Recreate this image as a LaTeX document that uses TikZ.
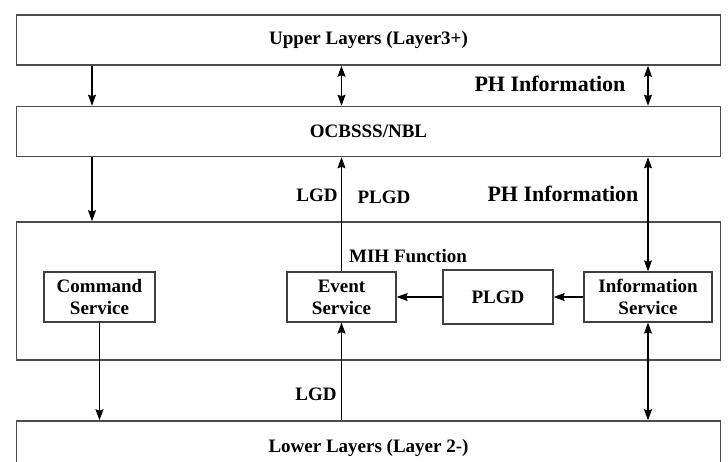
\documentclass[tikz,border=0pt]{standalone}
\usepackage{fontspec}
\setmainfont{Liberation Serif}
\usepackage{tikz}
\usetikzlibrary{positioning,arrows.meta}

\begin{document}
\begin{tikzpicture}[x=1pt,y=-1pt]
  \tikzstyle{layer} = [draw=black!70, line width=1.6pt, minimum width=704pt,
    minimum height=50pt, inner sep=0pt, font=\fontsize{19}{22}\selectfont\bfseries]
  \tikzstyle{service} = [draw=black!75, line width=1.3pt, minimum height=50pt,
    inner sep=0pt, align=center, font=\fontsize{19}{22}\selectfont\bfseries]
  \tikzstyle{lbl} = [inner sep=0pt, font=\fontsize{19}{22}\selectfont\bfseries]
  \tikzstyle{lblbig} = [inner sep=0pt, font=\fontsize{22}{24}\selectfont\bfseries]
  \tikzstyle{link} = [-{Stealth[length=11pt,width=8pt,inset=1.5pt]}, line width=1.1pt]
  \tikzstyle{linkboth} = [{Stealth[length=11pt,width=8pt,inset=1.5pt]}-{Stealth[length=11pt,width=8pt,inset=1.5pt]},
    line width=1.1pt]

  \clip (0,0) rectangle (728,462);
  \fill[white] (0,0) rectangle (728,462);

  \node[layer] (upper) at (368.5,40) {Upper Layers (Layer3+)};
  \node[layer] (ocb) at (368.5,131.5) {OCBSSS/NBL};
  \node[layer, minimum height=138pt] (mih) at (368.5,291) {};
  \node[layer, minimum height=54pt] (lower) at (368.5,448) {Lower Layers (Layer 2-)};

  \node[service, minimum width=111pt] (cmd) at (99.5,297) {Command\\Service};
  \node[service, minimum width=109pt] (event) at (341.5,297) {Event\\Service};
  \node[service, minimum width=110pt, minimum height=54pt] (plgd) at (498,297) {PLGD};
  \node[service, minimum width=128pt] (info) at (648,297) {Information\\Service};
  \coordinate (lx) at (92,0);

  \draw[link] (upper.south -| lx) -- (ocb.north -| lx);
  \draw[linkboth] (upper.south -| event) -- (ocb.north -| event);
  \draw[linkboth] (upper.south -| info) -- (ocb.north -| info);
  \draw[link] (ocb.south -| lx) -- (mih.north -| lx);
  \draw[link] (event.north) -- (ocb.south -| event);
  \draw[linkboth] (ocb.south -| info) -- (info.north);
  \draw[link] (cmd.south) -- (lower.north -| cmd);
  \draw[link] (lower.north -| event) -- (event.south);
  \draw[linkboth] (info.south) -- (lower.north -| info);
  \draw[link] (plgd) -- (event);
  \draw[link] (info) -- (plgd);

  \node[lblbig] (ph1) at (550,84) {PH Information};
  \node[lblbig] (ph2) at (563,194) {PH Information};
  \node[lbl] (lgd1) at (317,195) {LGD};
  \node[lbl] (plgd1) at (384,197) {PLGD};
  \node[lbl] (mihfn) at (408,256) {MIH Function};
  \node[lbl] (lgd2) at (316,394) {LGD};
\end{tikzpicture}
\end{document}
